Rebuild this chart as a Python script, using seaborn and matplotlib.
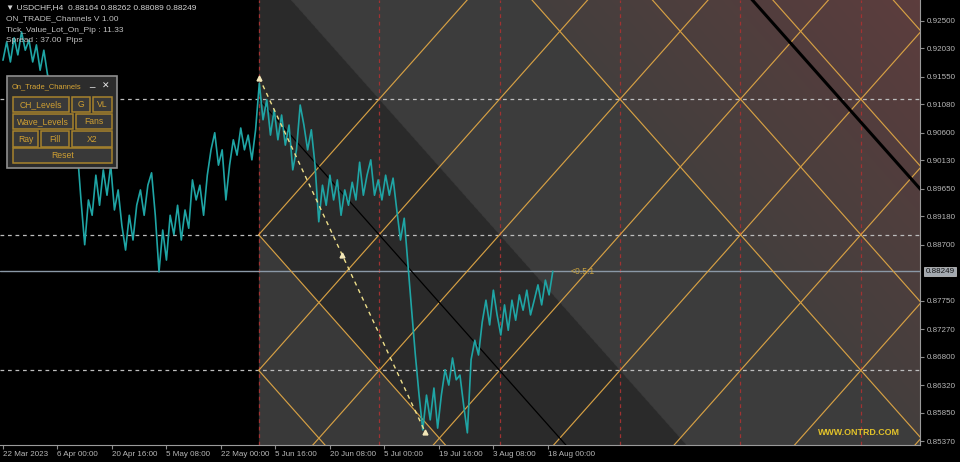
import numpy as np
import matplotlib.pyplot as plt
import seaborn as sns
from matplotlib.patches import Rectangle

sns.set_theme(style="dark")
plt.rcParams['font.family'] = ['Liberation Sans', 'DejaVu Sans']

# USDCHF H4, one value every 6 bars starting 22 Mar 2023
prices = [
    0.9183, 0.9214, 0.9180, 0.9221, 0.9192, 0.9231, 0.9200, 0.9217, 0.9180, 0.9209,
    0.9166, 0.9200, 0.9158, 0.9149, 0.9124, 0.9099, 0.9107, 0.9065, 0.9048, 0.9014,
    0.9031, 0.8946, 0.8870, 0.8946, 0.8920, 0.8988, 0.8937, 0.8997, 0.8954, 0.9005,
    0.8929, 0.8963, 0.8903, 0.8861, 0.8920, 0.8878, 0.8937, 0.8963, 0.8920, 0.8971,
    0.8992, 0.8920, 0.8824, 0.8895, 0.8844, 0.8920, 0.8887, 0.8937, 0.8878, 0.8929,
    0.8898, 0.8980, 0.8946, 0.8971, 0.8920, 0.8988, 0.9031, 0.9060, 0.9005, 0.9031,
    0.8946, 0.9005, 0.9048, 0.9022, 0.9068, 0.9031, 0.9056, 0.9014, 0.9065, 0.9144,
    0.9082, 0.9116, 0.9056, 0.9099, 0.9048, 0.9090, 0.9039, 0.9073, 0.8997, 0.9031,
    0.9107, 0.9073, 0.9031, 0.9065, 0.9005, 0.8909, 0.8971, 0.8937, 0.8988, 0.8946,
    0.8980, 0.8920, 0.8963, 0.8937, 0.8976, 0.8946, 0.9010, 0.8954, 0.8988, 0.9014,
    0.8954, 0.8980, 0.8946, 0.8988, 0.8954, 0.8983, 0.8929, 0.8878, 0.8915, 0.8836,
    0.8759, 0.8683, 0.8615, 0.8556, 0.8615, 0.8573, 0.8627, 0.8559, 0.8615, 0.8658,
    0.8632, 0.8678, 0.8641, 0.8649, 0.8598, 0.8551, 0.8675, 0.8708, 0.8683, 0.8739,
    0.8776, 0.8734, 0.8793, 0.8751, 0.8717, 0.8768, 0.8725, 0.8776, 0.8742, 0.8785,
    0.8759, 0.8793, 0.8751, 0.8776, 0.8802, 0.8768, 0.8810, 0.8785, 0.8825,
]
bar_step = 6

time_ticks = [0, 88, 176, 264, 352, 440, 528, 616, 704, 792, 880]
time_labels = ['22 Mar 2023', '6 Apr 00:00', '20 Apr 16:00', '5 May 08:00', '22 May 00:00',
               '5 Jun 16:00', '20 Jun 08:00', '5 Jul 00:00', '19 Jul 16:00', '3 Aug 08:00',
               '18 Aug 00:00']
price_ticks = [0.92500, 0.92030, 0.91550, 0.91080, 0.90600, 0.90130, 0.89650, 0.89180,
               0.88700, 0.87750, 0.87270, 0.86800, 0.86320, 0.85850, 0.85370]
last_price = 0.88249

# channel grid
ch_bar0 = 413
ch_price0 = 0.8887
ch_dbar = 194.5
ch_dprice = 0.0230
grid_cols = [0, 1, 2, 3, 4, 5]
grid_rows = [1, 0, -1]
up_lines = [0, -1, -2, -3, -4, -5, -6, -7]
down_lines = [-1, 0, 4, 5, 6, 7]
far_line = 5.83
wave_bars = [414, 548, 682]
wave_prices = [0.9153, 0.8853, 0.8552]

header = ['\u25bc USDCHF,H4  0.88164 0.88262 0.88089 0.88249',
          'ON_TRADE_Channels V 1.00',
          'Tick_Value_Lot_On_Pip : 11.33',
          'Spread : 37.00  Pips']
buttons = [('CH_Levels', 13, 97, 56, 15), ('G', 72, 97, 18, 15), ('VL', 93, 97, 19, 15),
           ('Wave_Levels', 13, 114, 60, 15), ('Fans', 76, 114, 36, 15),
           ('Ray', 13, 131, 25, 16), ('Fill', 41, 131, 28, 16), ('X2', 72, 131, 40, 16),
           ('Reset', 13, 148, 99, 15)]

W, H = 960, 462
xmin, xmax = -4.8, 1481
ymin, ymax = 0.85304, 0.92851


def desc(bar, c):
    return ch_price0 + ch_dprice * (c - (bar - ch_bar0) / ch_dbar)


def asc(bar, a):
    return ch_price0 + ch_dprice * (a + (bar - ch_bar0) / ch_dbar)


fig = plt.figure(figsize=(W / 100, H / 100), dpi=100, facecolor='black')
ax = fig.add_axes([0, 17 / H, 920 / W, 445 / H])
ax.set_facecolor('black')

# channel fills as one background raster
gx, gy = np.meshgrid(np.linspace(xmin, xmax, 1840), np.linspace(ymin, ymax, 890))
cc = (gy - ch_price0) / ch_dprice + (gx - ch_bar0) / ch_dbar
bg = np.zeros(gx.shape + (3,))
bg[cc < 0] = np.array([0x3a, 0x3a, 0x3a]) / 255
bg[(cc >= 0) & (cc < 2)] = np.array([0x2a, 0x2a, 0x2a]) / 255
bg[(cc >= 2) & (cc < 4)] = np.array([0x3c, 0x3c, 0x3c]) / 255
c0, c1 = np.array([0x44, 0x3f, 0x3e]) / 255, np.array([0x5d, 0x3d, 0x3d]) / 255
t = np.clip((cc - 4) / 3.3, 0, 1)[..., None]
bg = np.where((cc >= 4)[..., None], c0 + (c1 - c0) * t, bg)
bg[gx < ch_bar0] = 0
ax.imshow(bg, extent=[xmin, xmax, ymin, ymax], origin='lower', aspect='auto',
          interpolation='antialiased', zorder=0)

# level lines
for k in grid_cols:
    ax.axvline(ch_bar0 + k * ch_dbar, color='#a03232', lw=0.9, ls=(0, (3, 3)), zorder=2)
for r in grid_rows:
    ax.axhline(ch_price0 + r * ch_dprice, color='#bdbdbd', lw=0.9, ls=(0, (3, 3)), zorder=2)
ax.axhline(last_price, color='#8a98a6', lw=1, zorder=2)

# channel fan lines
xd = np.array([ch_bar0, xmax + 10])
for a in up_lines:
    ax.plot(xd, asc(xd, a), color='#d6a044', lw=0.85, zorder=3)
for c in down_lines:
    ax.plot(xd, desc(xd, c), color='#d6a044', lw=0.85, zorder=3)
ax.plot(xd, desc(xd, 1), color='black', lw=0.9, zorder=3)
ax.plot(xd, desc(xd, far_line), color='black', lw=2.2, zorder=3)

# price
bars = np.arange(len(prices)) * bar_step
sns.lineplot(x=bars, y=prices, ax=ax, color='#1fa5a5', lw=1.2, zorder=4)

# wave
ax.plot(wave_bars[::2], wave_prices[::2], color='#eedf8a', lw=1, ls=(0, (3, 3)), zorder=5)
ax.plot(wave_bars, wave_prices, ls='none', marker='^', ms=3.5, color='#f3e7b8', zorder=6)

ax.text(916, last_price, '<0.5:1', color='#c9a23e', fontsize=6.2, va='center', ha='left', zorder=6)
ax.text(0.978, 0.027, 'WWW.ONTRD.COM', transform=ax.transAxes, color='#e2c22a',
        fontsize=6.4, fontweight='bold', ha='right', va='center', zorder=6)

ax.set_xlim(xmin, xmax)
ax.set_ylim(ymin, ymax)
ax.set_xticks(time_ticks)
ax.set_xticklabels(time_labels)
ax.yaxis.tick_right()
ax.set_yticks(price_ticks)
ax.set_yticklabels([f'{p:.5f}' for p in price_ticks])
ax.tick_params(axis='x', colors='#8c8c8c', labelcolor='#b8b8b8', labelsize=5.8, length=3,
               width=0.8, direction='out', pad=1.5, bottom=True)
ax.tick_params(axis='y', colors='#8c8c8c', labelcolor='#b8b8b8', labelsize=5.8, length=3,
               width=0.8, direction='out', pad=2, right=True, left=False)
for lab in ax.get_xticklabels():
    lab.set_ha('left')
for side in ['left', 'top']:
    ax.spines[side].set_visible(False)
for side in ['right', 'bottom']:
    ax.spines[side].set_visible(True)
    ax.spines[side].set_color('#9a9a9a')
    ax.spines[side].set_linewidth(0.8)
ax.grid(False)

ax.annotate(f'{last_price:.5f}', xy=(1, last_price), xycoords=('axes fraction', 'data'),
            xytext=(4, 0), textcoords='offset points', va='center', ha='left',
            fontsize=5.8, color='#151515',
            bbox=dict(boxstyle='square,pad=0.15', fc='#a3a9b0', ec='#d0d0d0', lw=0.5))

# header text
for i, line in enumerate(header):
    fig.text(6 / W, 1 - (8 + i * 11) / H, line, color='#d4d4d4' if i == 0 else '#c0c0c0',
             fontsize=6, va='center', ha='left')


def px_rect(x, y, w, h, **kw):
    return Rectangle((x / W, 1 - (y + h) / H), w / W, h / H, transform=fig.transFigure, **kw)


# control panel
fig.add_artist(px_rect(7, 76, 110, 92, fc='#2c2c2c', ec='#8e8e8e', lw=1.2))
fig.text(12 / W, 1 - 87 / H, 'On_Trade_Channels', color='#d6a536', fontsize=5.4, va='center')
fig.text(92 / W, 1 - 88 / H, '_', color='#e0e0e0', fontsize=7, va='bottom', ha='center')
fig.text(106 / W, 1 - 86 / H, '\u2715', color='#e8e8e8', fontsize=6.5, va='center', ha='center',
         fontweight='bold', family='DejaVu Sans')
for label, bx, by, bw, bh in buttons:
    fig.add_artist(px_rect(bx, by, bw, bh, fc='#393939', ec='#a7832c', lw=1.1))
    fig.text((bx + bw / 2) / W, 1 - (by + bh / 2) / H, label, color='#cf9f32',
             fontsize=6.2, va='center', ha='center')

fig.savefig('out.png', dpi=100, facecolor='black')
